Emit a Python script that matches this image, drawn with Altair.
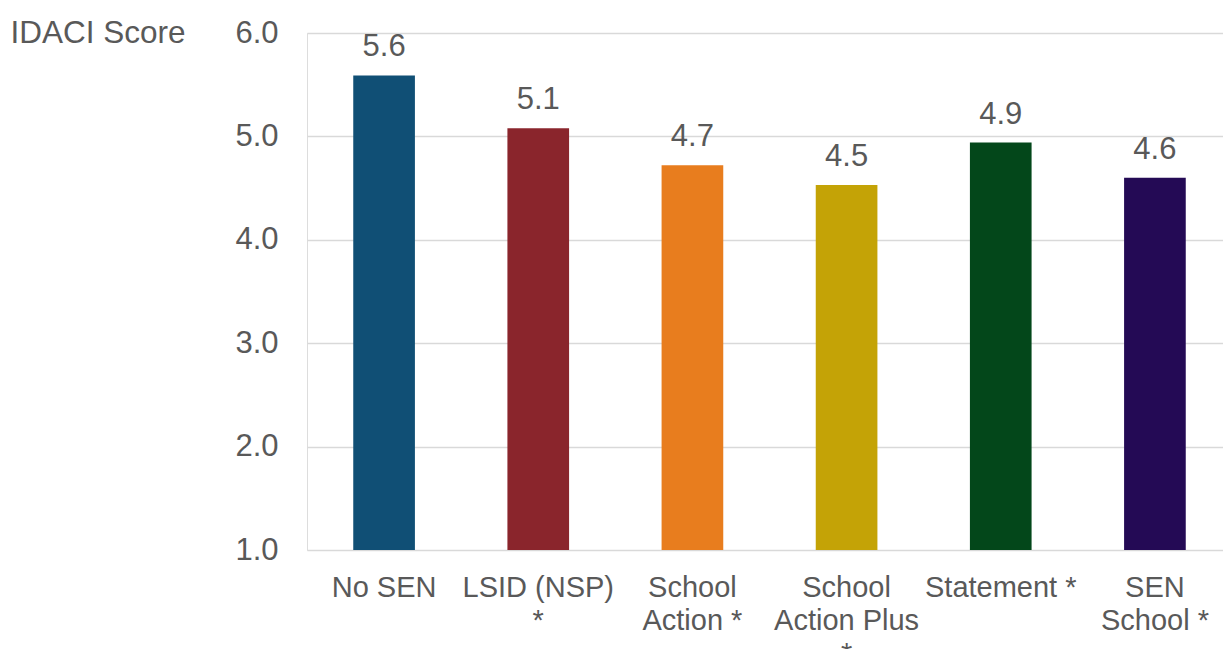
import altair as alt
import pandas as pd

# SEN groups (label lines separated by "|") and mean IDACI score per group
categories = ["No SEN", "LSID (NSP)|*", "School|Action *", "School|Action Plus|*", "Statement *", "SEN|School *"]
scores = [5.59, 5.08, 4.72, 4.53, 4.94, 4.60]
colors = ["#104F75", "#8A252C", "#E87D1E", "#C4A306", "#03471A", "#240A55"]
y_ticks = [1, 2, 3, 4, 5, 6]

df = pd.DataFrame({"group": categories, "score": scores, "color": colors})

FONT = "Liberation Sans"
GREY = "#595959"

x_enc = alt.X(
    "group:N",
    sort=categories,
    scale=alt.Scale(paddingInner=0.6, paddingOuter=0.3, range=[0, 925]),
    axis=alt.Axis(
        title=None,
        labelAngle=0,
        labelExpr="split(datum.label, '|')",
        labelFont=FONT,
        labelFontSize=29,
        labelColor=GREY,
        labelLineHeight=33,
        labelPadding=23,
        labelBaseline="top",
        ticks=False,
        domain=False,
        labelOverlap=False,
        labelBound=False,
    ),
)

y_enc = alt.Y(
    "score:Q",
    scale=alt.Scale(domain=[1, 6], nice=False, zero=False),
    axis=alt.Axis(
        values=y_ticks,
        format=".1f",
        title="IDACI Score",
        titleAngle=0,
        titleAlign="left",
        titleBaseline="alphabetic",
        titleX=-297,
        titleY=9,
        titleFont=FONT,
        titleFontSize=31.5,
        titleFontWeight="normal",
        titleColor=GREY,
        labelFont=FONT,
        labelFontSize=31,
        labelColor=GREY,
        labelPadding=29,
        ticks=False,
        domain=False,
        grid=True,
        gridColor="#D9D9D9",
        gridWidth=1.5,
    ),
)

bars = alt.Chart(df).mark_bar(clip=False).encode(
    x=x_enc,
    y=y_enc,
    y2=alt.datum(1),
    color=alt.Color("color:N", scale=None),
)

labels = alt.Chart(df).mark_text(
    font=FONT, fontSize=31, color=GREY, baseline="alphabetic", dy=-19
).encode(
    x=alt.X("group:N", sort=categories),
    y=alt.Y("score:Q"),
    text=alt.Text("score:Q", format=".1f"),
)

chart = (
    alt.layer(bars, labels)
    .properties(
        width=916,
        height=517,
        autosize=alt.AutoSizeParams(type="none"),
        padding={"left": 307, "top": 33, "right": 0, "bottom": 99},
    )
    .configure_view(stroke=None)
    .configure(background="white")
)

chart.save("out.html", embed_options={"renderer": "svg", "actions": False})
